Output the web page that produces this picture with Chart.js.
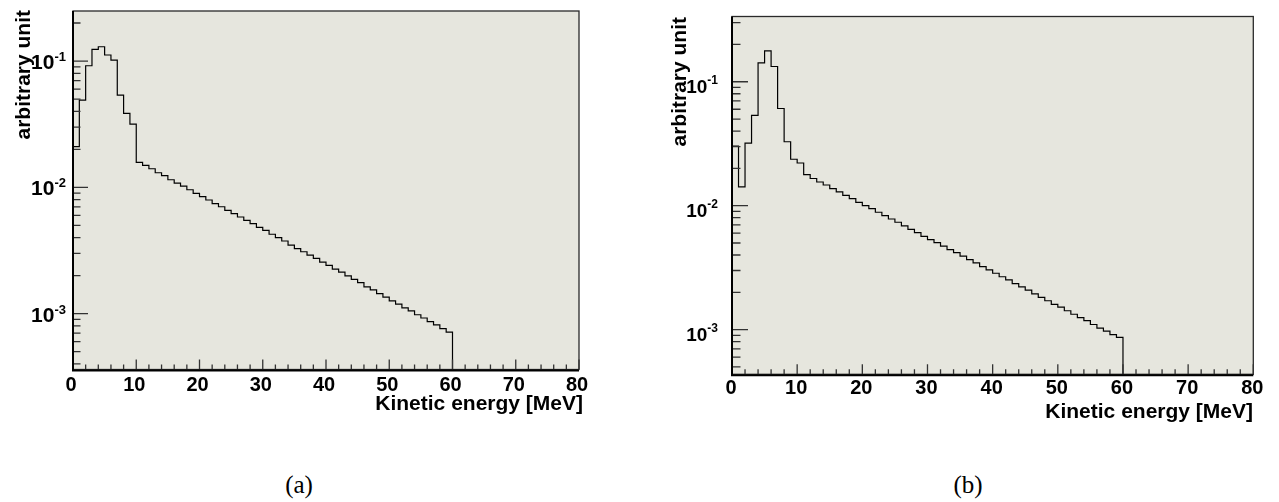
<!DOCTYPE html>
<html>
<head>
<meta charset="utf-8">
<script src="https://cdn.jsdelivr.net/npm/chart.js@4/dist/chart.umd.min.js"></script>
<style>
html,body{margin:0;padding:0;background:#fff;width:1279px;height:502px;overflow:hidden;}
.wrap{position:absolute;top:0;}
.cap{position:absolute;width:100px;text-align:center;font-family:"Liberation Serif","DejaVu Serif",serif;font-size:25px;line-height:30px;color:#000;}
</style>
</head>
<body>
<div class="wrap" style="left:0;width:640px;height:430px"><canvas id="chartA" width="640" height="430"></canvas></div>
<div class="wrap" style="left:640px;width:639px;height:430px"><canvas id="chartB" width="639" height="430"></canvas></div>
<div class="cap" style="left:249px;top:470px">(a)</div>
<div class="cap" style="left:918px;top:470px">(b)</div>
<script>
// ---- data ----
const binLowEdges = [0,1,2,3,4,5,6,7,8,9,10,11,12,13,14,15,16,17,18,19,20,21,22,23,24,25,26,27,28,29,
  30,31,32,33,34,35,36,37,38,39,40,41,42,43,44,45,46,47,48,49,50,51,52,53,54,55,56,57,58,59];
const lastBinUpperEdge = 60;

const countsA = [0.0210,0.0491,0.0918,0.1238,0.1298,0.1116,0.1018,0.0538,0.0385,0.0316,
  0.01578,0.01493,0.01403,0.01305,0.01236,0.01148,0.01081,0.01023,0.00957,0.00896,
  0.00843,0.00794,0.00742,0.00702,0.00657,0.00618,0.00582,0.00548,0.00515,0.00482,
  0.00457,0.00425,0.00399,0.00376,0.00349,0.00327,0.00309,0.00291,0.00274,0.00256,
  0.00241,0.00225,0.00213,0.00199,0.00187,0.00176,0.00163,0.00154,0.00144,0.00135,
  0.00126,0.00119,0.00111,0.00105,0.00098,0.000923,0.000863,0.000813,0.000760,0.000714];

const countsB = [0.0303,0.01416,0.0320,0.0536,0.1422,0.1771,0.1327,0.0608,0.0328,0.0237,
  0.0221,0.01778,0.01657,0.01553,0.01469,0.01371,0.01290,0.01213,0.01139,0.01065,
  0.01000,0.00946,0.00885,0.00830,0.00781,0.00735,0.00686,0.00645,0.00606,0.00566,
  0.00532,0.00503,0.00471,0.00442,0.00418,0.00391,0.00367,0.00345,0.00322,0.00303,
  0.00285,0.00267,0.00252,0.00235,0.00221,0.00208,0.00194,0.00182,0.00171,0.00160,
  0.00152,0.00142,0.00133,0.00125,0.00118,0.00110,0.00103,0.000971,0.000912,0.000866];

const xMajorTicks = [0,10,20,30,40,50,60,70,80];
const xTickLabels = ['0','10','20','30','40','50','60','70','80'];
const xMinorTicks = [2,4,6,8,12,14,16,18,22,24,26,28,32,34,36,38,42,44,46,48,52,54,56,58,62,64,66,68,72,74,76,78];
const yDecadeExponents = [-4,-3,-2,-1,0];
const yTickLabelBase = '10';
const yMinorMantissas = [2,3,4,5,6,7,8,9];
const xAxisTitle = 'Kinetic energy [MeV]';
const yAxisTitle = 'arbitrary unit';

const xRange = [0, 80];
const yRangeA = [3.61e-4, 0.249];
const yRangeB = [4.36e-4, 0.336];

// ---- helpers ----
function histPoints(counts, floor) {
  const pts = [{x: binLowEdges[0], y: floor}];
  binLowEdges.forEach((e, i) => pts.push({x: e, y: counts[i]}));
  pts.push({x: lastBinUpperEdge, y: counts[counts.length - 1]});
  pts.push({x: lastBinUpperEdge, y: floor});
  return pts;
}

function decorPlugin(s) {
  return {
    id: 'rootFrame',
    beforeDraw(chart) {
      const a = chart.chartArea, c = chart.ctx;
      c.save();
      c.fillStyle = '#e6e6de';
      c.fillRect(a.left, a.top, a.right - a.left, a.bottom - a.top);
      c.restore();
    },
    afterDatasetsDraw(chart) {
      const a = chart.chartArea, c = chart.ctx;
      const xs = chart.scales.x, ys = chart.scales.y;
      c.save();
      c.strokeStyle = '#2a2a2a';
      c.lineWidth = 1.3;
      c.strokeRect(a.left, a.top, a.right - a.left, a.bottom - a.top);
      c.strokeStyle = '#333';
      c.lineWidth = 1.3;
      c.beginPath();
      xMajorTicks.forEach(v => { const p = xs.getPixelForValue(v); c.moveTo(p, a.bottom); c.lineTo(p, a.bottom - s.xMajLen); });
      xMinorTicks.forEach(v => { const p = xs.getPixelForValue(v); c.moveTo(p, a.bottom); c.lineTo(p, a.bottom - s.xMinLen); });
      yDecadeExponents.forEach(e => {
        const d = Math.pow(10, e);
        if (d >= ys.min && d <= ys.max) { const p = ys.getPixelForValue(d); c.moveTo(a.left, p); c.lineTo(a.left + s.yMajLen, p); }
        yMinorMantissas.forEach(m => {
          const v = m * d;
          if (v >= ys.min && v <= ys.max) { const p = ys.getPixelForValue(v); c.moveTo(a.left, p); c.lineTo(a.left + s.yMinLen, p); }
        });
      });
      c.stroke();
      c.strokeStyle = '#000';
      c.lineWidth = 2;
      c.beginPath();
      c.moveTo(a.left, a.top); c.lineTo(a.left, a.bottom + 1); c.lineTo(a.right, a.bottom + 1);
      c.stroke();
      c.fillStyle = '#000';
      c.font = 'bold ' + s.xFont + 'px "Liberation Sans", Arial, sans-serif';
      c.textAlign = 'center';
      c.textBaseline = 'alphabetic';
      xMajorTicks.forEach((v, i) => c.fillText(xTickLabels[i], xs.getPixelForValue(v) + s.xLabDx, s.xLabBase));
      yDecadeExponents.forEach(e => {
        const d = Math.pow(10, e);
        if (d < ys.min || d > ys.max) return;
        const p = ys.getPixelForValue(d);
        const sup = String(e);
        c.font = 'bold ' + s.supFont + 'px "Liberation Sans", Arial, sans-serif';
        const ws = c.measureText(sup).width;
        c.textAlign = 'right';
        c.fillText(sup, s.yLabRight, p + s.supDy);
        c.font = 'bold ' + s.yFont + 'px "Liberation Sans", Arial, sans-serif';
        c.fillText(yTickLabelBase, s.yLabRight - ws, p + s.yLabDy);
      });
      c.font = 'bold ' + s.titleFont + 'px "Liberation Sans", Arial, sans-serif';
      c.textAlign = 'right';
      c.fillText(xAxisTitle, s.xTitleRight, s.xTitleBase);
      c.translate(s.yTitleBaseX, s.yTitleTop);
      c.rotate(-Math.PI / 2);
      c.fillText(yAxisTitle, 0, 0);
      c.restore();
    }
  };
}

function makeChart(id, counts, yRange, pad, style) {
  return new Chart(document.getElementById(id), {
    type: 'line',
    data: { datasets: [{
      data: histPoints(counts, 1e-7),
      stepped: 'before',
      borderColor: '#000',
      borderWidth: 1.2,
      pointRadius: 0,
      fill: false,
      tension: 0
    }]},
    options: {
      responsive: false,
      animation: false,
      devicePixelRatio: 1,
      layout: { padding: pad },
      plugins: { legend: { display: false }, tooltip: { enabled: false } },
      scales: {
        x: { type: 'linear', display: false, min: xRange[0], max: xRange[1] },
        y: { type: 'logarithmic', display: false, min: yRange[0], max: yRange[1] }
      }
    },
    plugins: [decorPlugin(style)]
  });
}

makeChart('chartA', countsA, yRangeA,
  { left: 73, top: 11, right: 61, bottom: 60.5 },
  { xMajLen: 10, xMinLen: 5, yMajLen: 15, yMinLen: 7.5,
    xFont: 20, xLabDx: -2, xLabBase: 391,
    yFont: 21, supFont: 13, yLabRight: 66, supDy: 0, yLabDy: 8,
    titleFont: 21, xTitleRight: 583, xTitleBase: 410,
    yTitleBaseX: 30, yTitleTop: 10 });

makeChart('chartB', countsB, yRangeB,
  { left: 92, top: 16.5, right: 25.7, bottom: 55.7 },
  { xMajLen: 10, xMinLen: 5, yMajLen: 16, yMinLen: 8.5,
    xFont: 20, xLabDx: -1, xLabBase: 394,
    yFont: 19, supFont: 12, yLabRight: 78, supDy: 2, yLabDy: 11,
    titleFont: 21, xTitleRight: 613, xTitleBase: 418,
    yTitleBaseX: 46, yTitleTop: 17 });
</script>
</body>
</html>
